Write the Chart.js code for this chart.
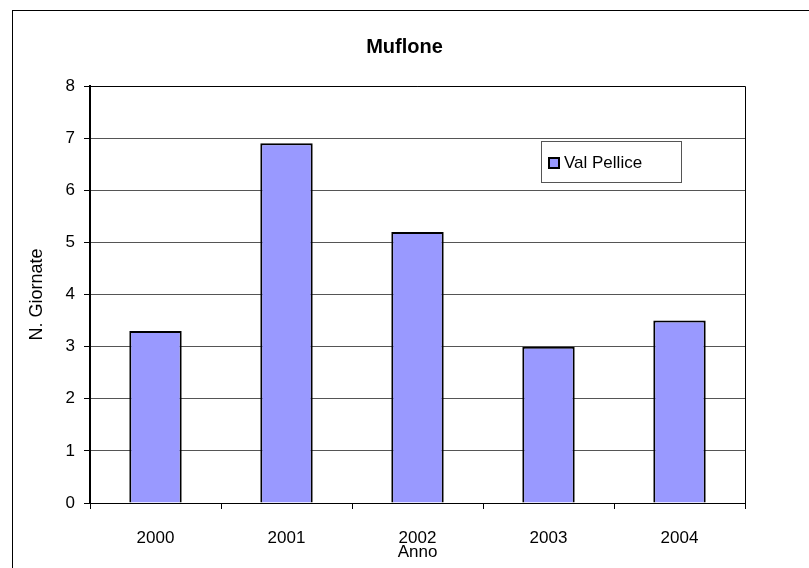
<!DOCTYPE html>
<html>
<head>
<meta charset="utf-8">
<script src="https://cdn.jsdelivr.net/npm/chart.js@4"></script>
<style>
  body { margin: 0; background: #fff; }
  #wrap { width: 809px; height: 568px; }
</style>
</head>
<body>
<div id="wrap"><canvas id="chart" width="809" height="568"></canvas></div>
<script>
  var years = ["2000", "2001", "2002", "2003", "2004"];
  var valPellice = [3.3, 6.9, 5.2, 3.0, 3.5];
  var seriesName = "Val Pellice";
  var chartTitle = "Muflone";
  var xTitle = "Anno";
  var yTitle = "N. Giornate";

  var fontFamily = "'Liberation Sans', Arial, sans-serif";
  var barColor = "#9999ff";

  // frame, plot border, title and legend box, drawn by hand like the original
  var decor = {
    id: "decor",
    beforeDraw: function (chart) {
      var ctx = chart.ctx;
      ctx.save();
      ctx.fillStyle = "#fff";
      ctx.fillRect(0, 0, chart.width, chart.height);
      ctx.strokeStyle = "#000";
      ctx.lineWidth = 1;
      ctx.strokeRect(12.5, 10.5, 820, 580);
      ctx.restore();
    },
    afterDraw: function (chart) {
      var ctx = chart.ctx;
      var a = chart.chartArea;
      ctx.save();
      ctx.strokeStyle = "#000";
      ctx.lineWidth = 1;
      ctx.beginPath();
      ctx.moveTo(a.left, a.top + 0.5);
      ctx.lineTo(a.right + 0.5, a.top + 0.5);
      ctx.lineTo(a.right + 0.5, a.bottom);
      ctx.stroke();

      ctx.fillStyle = "#000";
      ctx.font = "bold 20px " + fontFamily;
      ctx.textAlign = "center";
      ctx.textBaseline = "middle";
      ctx.fillText(chartTitle, chart.width / 2, 47);

      // legend
      var lx = 541, ly = 141, lw = 140, lh = 41;
      ctx.fillStyle = "#fff";
      ctx.fillRect(lx, ly, lw, lh);
      ctx.strokeStyle = "#555";
      ctx.strokeRect(lx + 0.5, ly + 0.5, lw, lh);
      ctx.fillStyle = barColor;
      ctx.fillRect(549, 158, 10, 10);
      ctx.strokeStyle = "#000";
      ctx.lineWidth = 2;
      ctx.strokeRect(549, 158, 10, 10);
      ctx.fillStyle = "#000";
      ctx.font = "17px " + fontFamily;
      ctx.textAlign = "left";
      ctx.fillText(seriesName, 564, 163);
      ctx.restore();
    }
  };

  new Chart(document.getElementById("chart"), {
    type: "bar",
    data: {
      labels: years,
      datasets: [{
        label: seriesName,
        data: valPellice,
        backgroundColor: barColor,
        borderColor: "#000",
        borderWidth: 2,
        barPercentage: 0.4,
        categoryPercentage: 1.0
      }]
    },
    options: {
      responsive: false,
      animation: false,
      layout: { padding: { top: 86, right: 64, left: 0, bottom: 0 } },
      plugins: {
        legend: { display: false },
        title: { display: false },
        tooltip: { enabled: false }
      },
      scales: {
        x: {
          grid: {
            offset: true,
            drawOnChartArea: false,
            drawTicks: true,
            tickLength: 6,
            color: "#000"
          },
          border: { color: "#000", width: 1 },
          ticks: {
            color: "#000",
            font: { family: fontFamily, size: 17 },
            padding: 19,
            maxRotation: 0
          },
          title: {
            display: true,
            text: xTitle,
            color: "#000",
            font: { family: fontFamily, size: 17 },
            padding: { top: 0, bottom: 5 }
          },
          afterFit: function (scale) { scale.height = 65; }
        },
        y: {
          min: 0,
          max: 8,
          ticks: {
            stepSize: 1,
            color: "#000",
            font: { family: fontFamily, size: 17 },
            padding: 9
          },
          grid: {
            color: "#555",
            tickColor: "#000",
            tickLength: 6
          },
          border: { color: "#000", width: 2 },
          title: {
            display: true,
            text: yTitle,
            color: "#000",
            font: { family: fontFamily, size: 18 },
            padding: { top: 26, bottom: 0 }
          },
          afterFit: function (scale) { scale.width = 90; }
        }
      }
    },
    plugins: [decor]
  });
</script>
</body>
</html>
